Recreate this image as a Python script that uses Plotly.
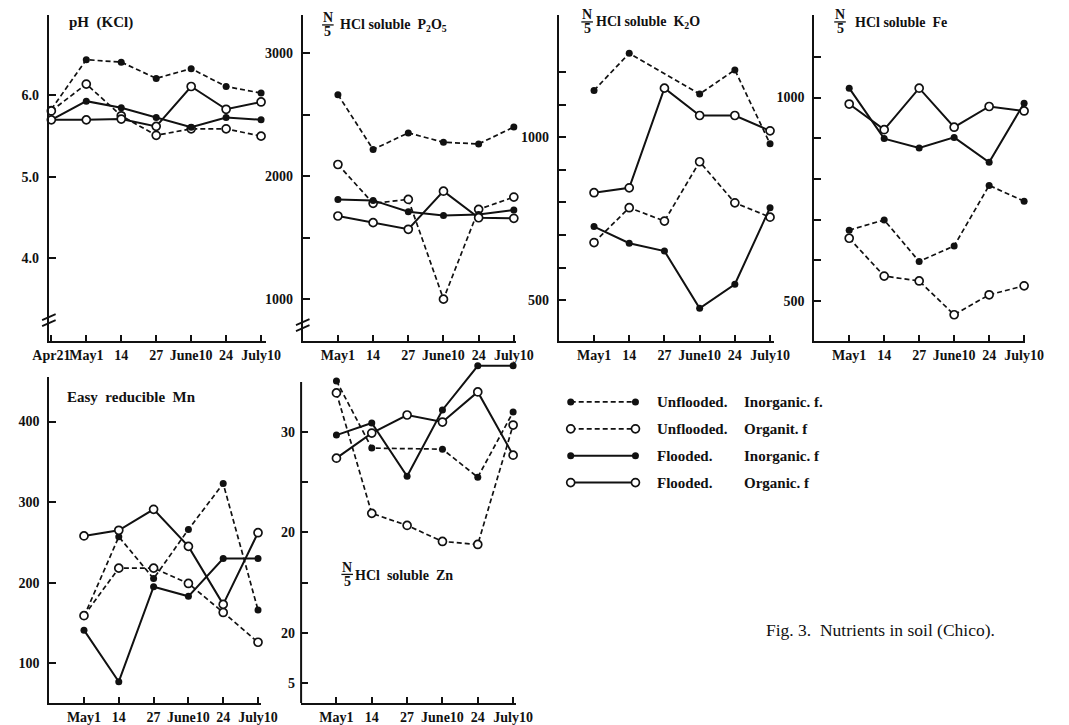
import plotly.graph_objects as go

# ---- sampling dates (index 0 = Apr21) ----
dates = ["Apr21", "May1", "14", "27", "June10", "24", "July10"]

# ---- pH (KCl), Apr21 .. July10 ----
ph_unfl_inorg = [5.83, 6.44, 6.41, 6.21, 6.33, 6.11, 6.03]
ph_unfl_org = [5.81, 6.14, 5.75, 5.51, 5.59, 5.59, 5.50]
ph_fl_inorg = [5.70, 5.93, 5.85, 5.73, 5.61, 5.73, 5.70]
ph_fl_org = [5.70, 5.70, 5.71, 5.62, 6.11, 5.83, 5.92]

# ---- N/5 HCl soluble P2O5, May1 .. July10 ----
p_unfl_inorg = [2663, 2217, 2352, 2276, 2262, 2400]
p_unfl_org = [2095, 1779, 1811, 1000, 1730, 1830]
p_fl_inorg = [1811, 1803, 1711, 1681, 1689, 1724]
p_fl_org = [1676, 1622, 1568, 1878, 1662, 1657]

# ---- N/5 HCl soluble K2O ----
k_unfl_inorg = [1144, 1258, None, 1133, 1207, 980]
k_unfl_org = [677, 784, 743, 925, 799, 755]
k_fl_inorg = [726, 675, 651, 475, 549, 784]
k_fl_org = [830, 845, 1151, 1067, 1067, 1020]

# ---- N/5 HCl soluble Fe ----
fe_unfl_inorg = [674, 699, 597, 635, 784, 745]
fe_unfl_org = [654, 561, 549, 466, 515, 537]
fe_fl_inorg = [1023, 899, 876, 902, 841, 986]
fe_fl_org = [984, 921, 1023, 927, 978, 967]

# ---- Easy reducible Mn ----
mn_unfl_inorg = [158, 257, 205, 266, 323, 166]
mn_unfl_org = [159, 218, 218, 199, 163, 126]
mn_fl_inorg = [141, 77, 195, 183, 230, 230]
mn_fl_org = [258, 265, 291, 245, 173, 262]

# ---- N/5 HCl soluble Zn ----
zn_unfl_inorg = [35.1, 28.4, None, 28.3, 25.5, 32.0]
zn_unfl_org = [33.9, 21.9, 20.7, 19.1, 18.8, 30.7]
zn_fl_inorg = [29.7, 30.9, 25.6, 32.2, 36.6, 36.6]
zn_fl_org = [27.4, 29.9, 31.7, 31.0, 34.0, 27.7]

# ---- treatments (legend) ----
legend_water = ["Unflooded.", "Unflooded.", "Flooded.", "Flooded."]
legend_fert = ["Inorganic. f.", "Organit. f", "Inorganic. f", "Organic. f"]

caption = "Fig. 3.  Nutrients in soil (Chico)."

W, H = 1069, 725
SERIF = "Liberation Serif"
INK = "#111111"


def px_x(a, b):
    return [a / W, b / W]


def px_y(top, bottom):
    return [1 - bottom / H, 1 - top / H]


def style(i):
    dashed = i < 2
    filled = i % 2 == 0
    line = dict(color=INK, width=1.7 if dashed else 2.0, dash="5px,3px" if dashed else "solid")
    if filled:
        marker = dict(symbol="circle", size=7, color=INK, line=dict(width=0))
    else:
        marker = dict(symbol="circle", size=8, color="white", line=dict(color=INK, width=1.7))
    return line, marker


panels = [
    dict(n=1, x=px_x(33, 258), y=px_y(15, 342), xr=[-0.07, 6.15], yr=[2.98, 6.99],
         xt=list(range(7)), xs=dates,
         yt=[4.0, 5.0, 6.0], ys=["4.0", "5.0", "6.0"], ym=[],
         series=[ph_unfl_inorg, ph_unfl_org, ph_fl_inorg, ph_fl_org], start=0),
    dict(n=2, x=px_x(295.7, 516.7), y=px_y(15, 342), xr=[0, 6.07], yr=[659, 3311],
         xt=list(range(1, 7)), xs=dates[1:],
         yt=[1000, 2000, 3000], ys=["1000", "2000", "3000"], ym=[1500, 2500],
         series=[p_unfl_inorg, p_unfl_org, p_fl_inorg, p_fl_org], start=1),
    dict(n=3, x=px_x(560.7, 783.3), y=px_y(15, 341.7), xr=[0, 6.11], yr=[375.6, 1375.6],
         xt=list(range(1, 7)), xs=dates[1:],
         yt=[500, 1000], ys=["500", "1000"], ym=[600, 700, 800, 900, 1100, 1200],
         series=[k_unfl_inorg, k_unfl_org, k_fl_inorg, k_fl_org], start=1),
    dict(n=4, x=px_x(825, 1043.3), y=px_y(15, 341.7), xr=[0, 6.03], yr=[402, 1203],
         xt=list(range(1, 7)), xs=dates[1:],
         yt=[500, 1000], ys=["500", "1000"], ym=[600, 700, 800, 900, 1100],
         series=[fe_unfl_inorg, fe_unfl_org, fe_fl_inorg, fe_fl_org], start=1),
    dict(n=5, x=px_x(33.3, 252.3), y=px_y(378.3, 705), xr=[0, 6.08], yr=[50.5, 455],
         xt=list(range(1, 7)), xs=dates[1:],
         yt=[100, 200, 300, 400], ys=["100", "200", "300", "400"], ym=[],
         series=[mn_unfl_inorg, mn_unfl_org, mn_fl_inorg, mn_fl_org], start=1),
    dict(n=6, x=px_x(294, 516.7), y=px_y(360.8, 705), xr=[0, 6.09], yr=[3, 37.2],
         xt=list(range(1, 7)), xs=dates[1:],
         yt=[5, 10, 20, 30], ys=["5", "20", "20", "30"], ym=[15, 25],
         series=[zn_unfl_inorg, zn_unfl_org, zn_fl_inorg, zn_fl_org], start=1),
]

fig = go.Figure()
layout = dict(
    width=W, height=H, margin=dict(l=0, r=0, t=0, b=0),
    paper_bgcolor="white", plot_bgcolor="white", showlegend=False,
    font=dict(family=SERIF, color=INK),
)
shapes = []
annotations = []

tickfont = dict(family=SERIF, size=14, color=INK, weight="bold")

for p in panels:
    n = p["n"]
    xa, ya = f"xaxis{n}", f"yaxis{n}"
    xref, yref = f"x{n}", f"y{n}"
    layout[xa] = dict(domain=p["x"], range=p["xr"], anchor=yref, showgrid=False, zeroline=False,
                      showline=True, linecolor=INK, linewidth=2,
                      ticks="inside", ticklen=6, tickwidth=1.5, tickcolor=INK, tickangle=0,
                      tickmode="array", tickvals=p["xt"], ticktext=p["xs"], tickfont=tickfont)
    ydict = dict(domain=p["y"], range=p["yr"], anchor=xref, showgrid=False, zeroline=False,
                 showline=(n != 6), linecolor=INK, linewidth=2,
                 ticks="inside", ticklen=7, tickwidth=1.5, tickcolor=INK,
                 tickmode="array", tickvals=p["yt"], ticktext=p["ys"], tickfont=tickfont,
                 ticklabelstandoff=5)
    if p["ym"]:
        ydict["minor"] = dict(tickmode="array", tickvals=p["ym"], ticks="inside", ticklen=7,
                              tickwidth=1.5, tickcolor=INK, showgrid=False)
    layout[ya] = ydict
    xs = list(range(p["start"], p["start"] + len(p["series"][0])))
    for i, ys in enumerate(p["series"]):
        line, marker = style(i)
        fig.add_trace(go.Scatter(x=xs, y=ys, mode="lines+markers", line=line, marker=marker,
                                 connectgaps=True, cliponaxis=False, hoverinfo="skip",
                                 xaxis=xref, yaxis=yref))

# Zn vertical axis ends at 35 although points rise above it
shapes.append(dict(type="line", xref="x6 domain", yref="y6", x0=0, x1=0, y0=3, y1=35,
                   line=dict(color=INK, width=2)))


def paper(xp, yp):
    return xp / W, 1 - yp / H


# axis break marks on pH and P2O5 axes
for (ax, ay) in [(33, 321), (295.7, 326)]:
    for dy in (-3, 3):
        x0, y0 = paper(ax - 7, ay + dy + 3)
        x1, y1 = paper(ax + 7, ay + dy - 3)
        shapes.append(dict(type="line", xref="paper", yref="paper", x0=x0, y0=y0, x1=x1, y1=y1,
                           line=dict(color=INK, width=1.8)))


def text(xp, yp, s, size=15, xanchor="left", weight="bold"):
    x, y = paper(xp, yp)
    annotations.append(dict(x=x, y=y, xref="paper", yref="paper", text=s, showarrow=False,
                            xanchor=xanchor, yanchor="middle",
                            font=dict(family=SERIF, size=size, color=INK, weight=weight)))


def fraction_title(fx, ytop, s, tx):
    text(fx, ytop, "N", size=14, xanchor="center")
    text(fx, ytop + 14, "5", size=14, xanchor="center")
    x0, y0 = paper(fx - 6, ytop + 7)
    x1, _ = paper(fx + 6, ytop + 7)
    shapes.append(dict(type="line", xref="paper", yref="paper", x0=x0, x1=x1, y0=y0, y1=y0,
                       line=dict(color=INK, width=1.3)))
    text(tx, ytop + 8, s, size=14)


text(52, 23, "pH&#160;&#160;(KCl)", size=15)
fraction_title(321.7, 18, "HCl&#160;soluble&#160;&#160;P<sub>2</sub>O<sub>5</sub>", 332)
fraction_title(590, 15, "HCl&#160;soluble&#160;&#160;K<sub>2</sub>O", 597)
fraction_title(851.7, 15, "HCl&#160;soluble&#160;&#160;Fe", 865)
text(50, 398, "Easy&#160;&#160;reducible&#160;&#160;Mn", size=15)
fraction_title(341.7, 569, "HCl&#160;&#160;soluble&#160;&#160;Zn", 348)

# legend: sample lines on their own hidden axis, labels as text
rows = list(range(len(legend_water)))
layout["xaxis7"] = dict(domain=px_x(573, 640), range=[0, 1], visible=False, anchor="y7")
layout["yaxis7"] = dict(domain=px_y(395, 492), range=[3.3, -0.3], visible=False, anchor="x7")
for i in rows:
    line, marker = style(i)
    fig.add_trace(go.Scatter(x=[0, 1], y=[i, i], mode="lines+markers", line=line, marker=marker,
                             cliponaxis=False, hoverinfo="skip", xaxis="x7", yaxis="y7"))
row_px = [403, 430.5, 457.5, 484.5]
for i in rows:
    text(660, row_px[i], legend_water[i], size=15)
    text(750, row_px[i], legend_fert[i], size=15)

text(773, 632, caption, size=17.5, weight="normal")

layout["shapes"] = shapes
layout["annotations"] = annotations
fig.update_layout(**layout)
fig.write_html("out.html")
